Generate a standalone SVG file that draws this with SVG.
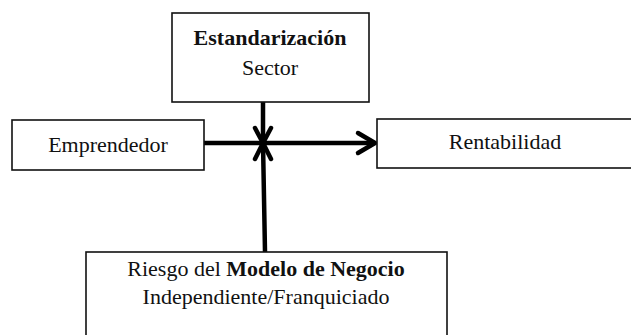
<svg xmlns="http://www.w3.org/2000/svg" width="631" height="335" viewBox="0 0 631 335">
<style>
.box{fill:#fff;stroke:#111;stroke-width:1.6}
.t{font-family:"Liberation Serif","Times New Roman",serif;font-size:22px;fill:#111;text-anchor:middle}
.b{font-weight:bold}
.c{fill:none;stroke:#000;stroke-width:4.5;stroke-linecap:round;stroke-linejoin:round}
</style>
<rect width="631" height="335" fill="#fff"/>
<g id="connectors">
<line class="c" x1="204" y1="143" x2="374" y2="143"/>
<polyline class="c" points="358,133 375,143 358,153"/>
<line class="c" x1="263" y1="102" x2="263" y2="143"/>
<polyline class="c" points="255,128 263,143 271,128"/>
<line class="c" x1="265" y1="252" x2="263" y2="143"/>
<polyline class="c" points="255,159 263,143 271,159"/>
</g>
<g id="estandarizacion">
<rect class="box" x="172" y="13" width="197" height="89"/>
<text class="t b" x="270" y="45">Estandarización</text>
<text class="t" x="270" y="75">Sector</text>
</g>
<g id="emprendedor">
<rect class="box" x="12" y="120" width="192" height="50"/>
<text class="t" x="108" y="152">Emprendedor</text>
</g>
<g id="rentabilidad">
<rect class="box" x="377" y="119" width="264" height="49"/>
<text class="t" x="505" y="149">Rentabilidad</text>
</g>
<g id="riesgo">
<rect class="box" x="86" y="252" width="361" height="100"/>
<text class="t" x="266" y="276">Riesgo del <tspan class="b">Modelo de Negocio</tspan></text>
<text class="t" x="266" y="304">Independiente/Franquiciado</text>
</g>
</svg>
